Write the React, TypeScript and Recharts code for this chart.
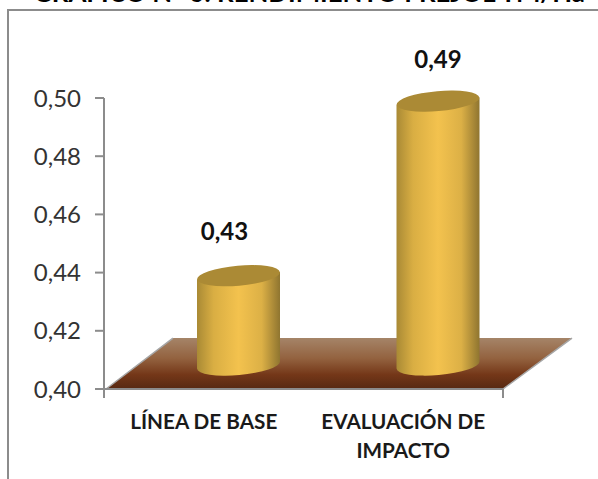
import { BarChart, Bar, XAxis, YAxis, ReferenceArea, LabelList } from 'recharts'

const categories = ['LÍNEA DE BASE', 'EVALUACIÓN DE\nIMPACTO']
const values = [0.43, 0.49]
const yTicks = [0.4, 0.42, 0.44, 0.46, 0.48, 0.5]
const edgeTicks = [0, 1, 2]
const floorTop = 0.4175
const titleText = 'GRÁFICO N° 6: RENDIMIENTO FREJOL TM/Ha'

const data = categories.map((name, i) => ({ name, value: values[i] }))

const AXIS_COLOR = '#8c8c8c'
const DEPTH_X = 35
const DEPTH_Y = 26
const FLOOR_SKEW = 69

function fmt(v: number): string {
  return v.toFixed(2).replace('.', ',')
}

function Cylinder(props: any) {
  const { x, y, width, height } = props
  const left = x + DEPTH_X
  const rx = width / 2
  const ry = 10
  const cx = left + rx
  const top = y - DEPTH_Y
  const bottom = y + height - DEPTH_Y + 2
  const tilt = 5
  const lift = Math.sin((tilt * Math.PI) / 180) * rx
  const body =
    `M${left},${top + lift} L${left},${bottom + lift} ` +
    `A${rx},${ry} ${-tilt} 0 0 ${left + width},${bottom - lift} ` +
    `L${left + width},${top - lift} Z`
  return (
    <g>
      <path d={body} fill="url(#cylBody)" />
      <ellipse cx={cx} cy={top} rx={rx} ry={ry} fill="#ab8a35" transform={`rotate(${-tilt} ${cx} ${top})`} />
    </g>
  )
}

function Floor(props: any) {
  const { x, y, width, height } = props
  const bottom = y + height
  const d = `M${x + 2},${bottom} L${x + width},${bottom} L${x + width + FLOOR_SKEW},${y} L${x + FLOOR_SKEW},${y} Z`
  return (
    <g>
      <path d={d} fill="url(#floorFill)" />
      <path
        d={`M${x + 2},${bottom} L${x + FLOOR_SKEW},${y} M${x + width},${bottom} L${x + width + FLOOR_SKEW},${y}`}
        stroke="#a6a6a6"
        strokeWidth={1.5}
        fill="none"
      />
    </g>
  )
}

function ValueLabel(props: any) {
  const { x, y, width, value, index } = props
  const dx = index === 0 ? 21 : 35
  const dy = index === 0 ? -62 : -59
  return (
    <text
      x={x + width / 2 + dx}
      y={y + dy}
      textAnchor="middle"
      fontFamily="Lato"
      fontWeight={700}
      fontSize={24}
      fill="#111"
    >
      {fmt(value)}
    </text>
  )
}

function CategoryTick(props: any) {
  const { x, y, payload } = props
  const lines = String(payload.value).split('\n')
  return (
    <text textAnchor="middle" fontFamily="Lato" fontWeight={700} fontSize={20.7} fill="#1a1a1a">
      {lines.map((line, i) => (
        <tspan key={line} x={x} y={y + 31 + i * 29}>
          {line}
        </tspan>
      ))}
    </text>
  )
}

export default function App() {
  return (
    <div style={{ position: 'fixed', left: 0, top: 0, width: 598, height: 479, overflow: 'hidden', background: '#fff' }}>
      <div
        style={{
          position: 'absolute',
          left: 0,
          right: 0,
          top: -23,
          textAlign: 'center',
          paddingLeft: 20,
          fontFamily: 'Lato',
          fontWeight: 700,
          fontSize: 25.8,
          lineHeight: '30px',
          color: '#000',
          whiteSpace: 'nowrap',
        }}
      >
        {titleText}
      </div>
      <div
        style={{
          position: 'absolute',
          left: 7,
          top: 9,
          right: -10,
          bottom: -10,
          borderTop: `2px solid ${AXIS_COLOR}`,
          borderLeft: `2px solid ${AXIS_COLOR}`,
        }}
      />
      <div style={{ position: 'absolute', left: 0, top: 0 }}>
        <BarChart width={598} height={479} data={data} margin={{ top: 98, right: 95, bottom: 0, left: 0 }}>
          <defs>
            <linearGradient id="cylBody" x1="0" y1="0" x2="1" y2="0">
              <stop offset="0%" stopColor="#a98a35" />
              <stop offset="20%" stopColor="#d9ae43" />
              <stop offset="50%" stopColor="#f3c24e" />
              <stop offset="78%" stopColor="#dcb046" />
              <stop offset="100%" stopColor="#8f7530" />
            </linearGradient>
            <linearGradient id="floorFill" x1="0" y1="0" x2="0" y2="1">
              <stop offset="0%" stopColor="#a58468" />
              <stop offset="40%" stopColor="#93623f" />
              <stop offset="72%" stopColor="#743718" />
              <stop offset="100%" stopColor="#572912" />
            </linearGradient>
          </defs>
          <XAxis
            xAxisId="edges"
            type="number"
            domain={[0, 2]}
            ticks={edgeTicks}
            height={1}
            tickFormatter={() => ''}
            tickSize={9}
            stroke={AXIS_COLOR}
            tickLine={{ stroke: AXIS_COLOR, strokeWidth: 2 }}
            axisLine={{ stroke: AXIS_COLOR, strokeWidth: 2 }}
          />
          <XAxis
            xAxisId="labels"
            dataKey="name"
            axisLine={false}
            tickLine={false}
            tick={<CategoryTick />}
            height={89}
            interval={0}
          />
          <YAxis
            domain={[0.4, 0.5]}
            ticks={yTicks}
            width={104}
            tickFormatter={fmt}
            tickSize={9}
            tickMargin={14}
            tick={{ fill: '#333', fontSize: 24, fontFamily: 'Lato' }}
            tickLine={{ stroke: AXIS_COLOR, strokeWidth: 2 }}
            axisLine={{ stroke: AXIS_COLOR, strokeWidth: 2 }}
          />
          <ReferenceArea xAxisId="labels" y1={0.4} y2={floorTop} shape={<Floor />} />
          <Bar xAxisId="labels" dataKey="value" barSize={83} shape={<Cylinder />} isAnimationActive={false}>
            <LabelList dataKey="value" content={<ValueLabel />} />
          </Bar>
        </BarChart>
      </div>
    </div>
  )
}
